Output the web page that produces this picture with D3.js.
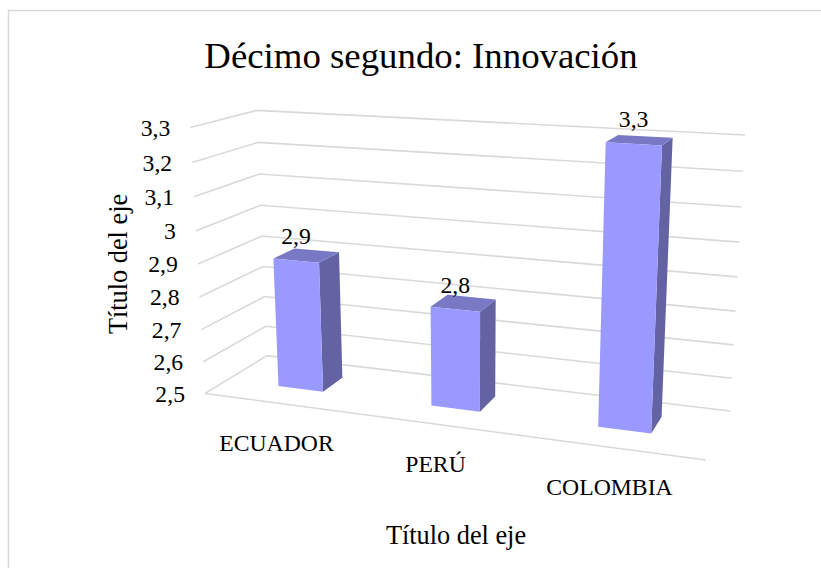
<!DOCTYPE html>
<html>
<head>
<meta charset="utf-8">
<script src="https://cdn.jsdelivr.net/npm/d3@7"></script>
<style>
  body { margin: 0; background: #fff; }
</style>
</head>
<body>
<svg id="chart" width="821" height="568"></svg>
<script>
'use strict'

// data
var categories = ["ECUADOR", "PERÚ", "COLOMBIA"]
var values     = [2.9, 2.8, 3.3]
var yTicks     = [2.5, 2.6, 2.7, 2.8, 2.9, 3, 3.1, 3.2, 3.3]
var title      = "Décimo segundo: Innovación"
var xTitle     = "Título del eje"
var yTitle     = "Título del eje"

var svg = d3.select("#chart")
  .attr("font-family", "'Liberation Serif', 'Times New Roman', 'DejaVu Serif', serif")

// world space: x (categories) 0..1, y (values) 0..1, z (depth) 0 front .. 1 back
var x = d3.scaleBand().domain(categories).range([0, 1]).paddingInner(0.7).paddingOuter(0.35)
var y = d3.scaleLinear().domain([2.5, 3.3]).range([0, 1])
var barZ = [0.35, 0.7]

// screen positions of the corners of the 3d box, used to fit the perspective
var frame = [
  [0, 1, 0, 190, 128],
  [0, 0, 0, 205, 393],
  [1, 0, 0, 706, 460],
  [0, 1, 1, 257, 110],
  [0, 0, 1, 267, 356],
  [1, 1, 1, 745, 135],
  [1, 0, 1, 730, 411]
]

// fit a 3x4 projection matrix (least squares, normalised pixels)
var cx0 = 450, cy0 = 280, sc = 300
function fitProjection(pts){
  let n = 11
  let M = d3.range(n).map(() => new Array(n + 1).fill(0))
  let add = (row, b) => {
    for (let i = 0; i < n; i++){
      for (let j = 0; j < n; j++) M[i][j] += row[i] * row[j]
      M[i][n] += row[i] * b
    }
  }
  pts.forEach(([X, Y, Z, px, py]) => {
    let u = (px - cx0) / sc, v = (py - cy0) / sc
    add([X, Y, Z, 1, 0, 0, 0, 0, -u * X, -u * Y, -u * Z], u)
    add([0, 0, 0, 0, X, Y, Z, 1, -v * X, -v * Y, -v * Z], v)
  })
  for (let c = 0; c < n; c++){
    let piv = c
    for (let r = c + 1; r < n; r++) if (Math.abs(M[r][c]) > Math.abs(M[piv][c])) piv = r
    let tmp = M[c]; M[c] = M[piv]; M[piv] = tmp
    for (let r = 0; r < n; r++){
      if (r == c) continue
      let f = M[r][c] / M[c][c]
      for (let k = c; k <= n; k++) M[r][k] -= f * M[c][k]
    }
  }
  return M.map((row, i) => row[n] / row[i])
}
var p = fitProjection(frame)

function P(X, Y, Z){
  let w = p[8] * X + p[9] * Y + p[10] * Z + 1
  let u = (p[0] * X + p[1] * Y + p[2] * Z + p[3]) / w
  let v = (p[4] * X + p[5] * Y + p[6] * Z + p[7]) / w
  return [u * sc + cx0, v * sc + cy0]
}

var line = d3.line()
var fmt = d3.formatLocale({decimal: ",", thousands: ".", grouping: [3], currency: ["", ""]}).format("~g")

// chart border
svg.append("rect")
  .attr("x", 8.5).attr("y", 10.5)
  .attr("width", 900).attr("height", 700)
  .attr("fill", "none").attr("stroke", "#d9d9d9").attr("stroke-width", 1.5)

// gridlines on left wall and back wall
var grid = svg.append("g")
  .attr("fill", "none").attr("stroke", "#d9d9d9").attr("stroke-width", 1.6)

grid.selectAll("path.grid")
  .data(yTicks)
  .enter().append("path")
    .attr("class", "grid")
    .attr("d", t => line([P(0, y(t), 0), P(0, y(t), 1), P(1, y(t), 1)]))

// floor front edge
grid.append("path")
  .attr("d", line([P(0, 0, 0), P(1, 0, 0)]))

// tick labels
svg.append("g").selectAll("text")
  .data(yTicks)
  .enter().append("text")
    .attr("x", t => P(0, y(t), 0)[0] - 20)
    .attr("y", t => P(0, y(t), 0)[1])
    .attr("dy", "0.35em")
    .attr("text-anchor", "end")
    .style("font-size", "23.7px")
    .text(t => fmt(t))

// bars
var bars = svg.append("g").selectAll("g")
  .data(categories.map((c, i) => ({cat: c, value: values[i]})))
  .enter().append("g")

function face(d, which){
  let x0 = x(d.cat), x1 = x(d.cat) + x.bandwidth()
  let y0 = 0, y1 = y(d.value)
  let z0 = barZ[0], z1 = barZ[1]
  let pts
  if (which == "side")  pts = [[x1, y0, z0], [x1, y0, z1], [x1, y1, z1], [x1, y1, z0]]
  if (which == "top")   pts = [[x0, y1, z0], [x1, y1, z0], [x1, y1, z1], [x0, y1, z1]]
  if (which == "front") pts = [[x0, y0, z0], [x1, y0, z0], [x1, y1, z0], [x0, y1, z0]]
  return line(pts.map(q => P(q[0], q[1], q[2]))) + "Z"
}

bars.append("path").attr("d", d => face(d, "side")).attr("fill", "#6363a3")
bars.append("path").attr("d", d => face(d, "top")).attr("fill", "#7878c5")
bars.append("path").attr("d", d => face(d, "front")).attr("fill", "#9999ff")

// value labels
bars.append("text")
  .attr("x", d => P(x(d.cat) + x.bandwidth() / 2, y(d.value), barZ[0])[0])
  .attr("y", d => P(x(d.cat) + x.bandwidth() / 2, y(d.value), barZ[0])[1] - 25)
  .attr("dy", "0.35em")
  .attr("text-anchor", "middle")
  .style("font-size", "23.7px")
  .text(d => fmt(d.value))

// category labels
svg.append("g").selectAll("text")
  .data(categories)
  .enter().append("text")
    .attr("x", c => P(x(c) + x.bandwidth() / 2, 0, 0)[0] - 3)
    .attr("y", c => P(x(c) + x.bandwidth() / 2, 0, 0)[1] + 39)
    .attr("dy", "0.35em")
    .attr("text-anchor", "middle")
    .style("font-size", "23.7px")
    .text(c => c)

// titles
svg.append("text")
  .attr("x", 421).attr("y", 68)
  .attr("text-anchor", "middle")
  .style("font-size", "36.8px")
  .text(title)

svg.append("text")
  .attr("x", 456).attr("y", 535)
  .attr("dy", "0.35em")
  .attr("text-anchor", "middle")
  .style("font-size", "26.3px")
  .text(xTitle)

svg.append("text")
  .attr("transform", "translate(118,264) rotate(-90)")
  .attr("dy", "0.35em")
  .attr("text-anchor", "middle")
  .style("font-size", "26.3px")
  .text(yTitle)
</script>
</body>
</html>
